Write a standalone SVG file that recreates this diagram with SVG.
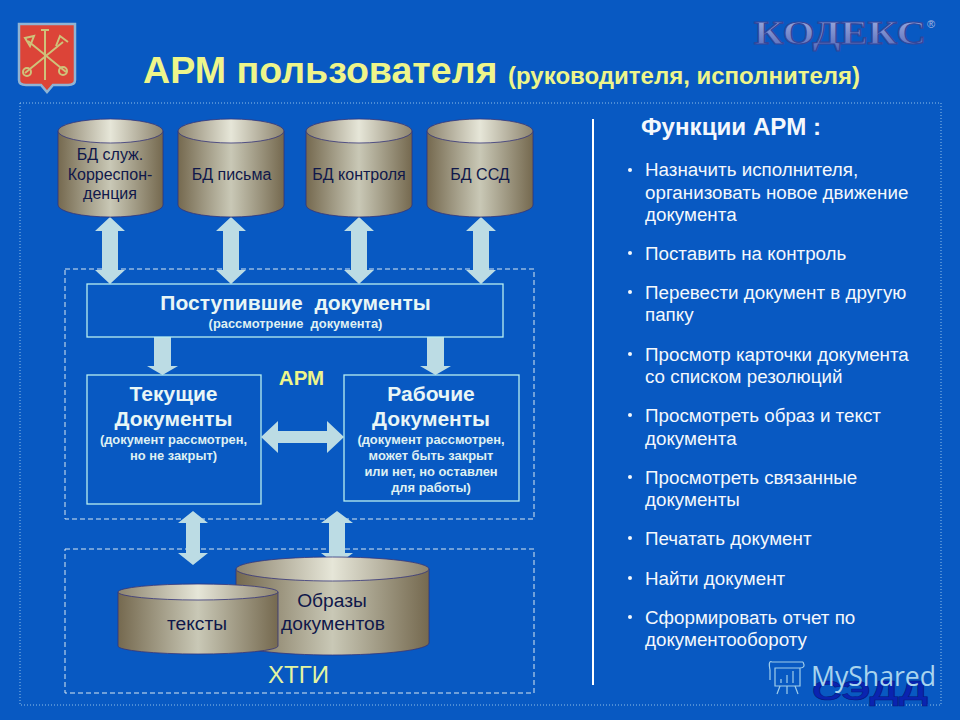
<svg xmlns="http://www.w3.org/2000/svg" width="960" height="720" viewBox="0 0 960 720">
<style>
text{font-family:"Liberation Sans",Arial,sans-serif}
.d{fill:none;stroke:#d8e8f0;stroke-width:1;stroke-dasharray:5 3}
.o{fill:none;stroke:#8fc0e8;stroke-width:1;stroke-dasharray:1 2}
.b{fill:#0859c2;stroke:#b8eef0;stroke-width:1.3}
.a{fill:#bcdce4}
.c{fill:url(#body);stroke:#33337a;stroke-width:.8}
.t{fill:url(#top);stroke:#33337a;stroke-width:.8}
.l{font-size:16px;fill:#10184a;text-anchor:middle}
.l2{font-size:19.200px;fill:#10184a;text-anchor:middle}
.h{font-size:21px;font-weight:bold;fill:#e8f6f6;text-anchor:middle}
.s{font-size:12.900px;font-weight:bold;fill:#dff0f2;text-anchor:middle}
.f{font-size:18.800px;fill:#f4f8fc}
.y{fill:#eef58a;font-weight:bold}
</style>
<defs>
<linearGradient id="body"><stop offset="0" stop-color="#75694f"/><stop offset=".5" stop-color="#c9c8b6"/><stop offset="1" stop-color="#75694f"/></linearGradient>
<linearGradient id="top"><stop offset="0" stop-color="#8d846e"/><stop offset=".5" stop-color="#e6e6d8"/><stop offset="1" stop-color="#8d846e"/></linearGradient>
<linearGradient id="logo" x1="0" y1="0" x2="0" y2="1"><stop offset="0" stop-color="#a4b4e4"/><stop offset="1" stop-color="#5468b8"/></linearGradient>
</defs>
<rect width="960" height="720" fill="#0859c2"/>
<rect class="o" x="20" y="103" width="921" height="602"/>

<g id="emblem">
<path d="M19 24H75V80Q75 85 68 85H53L47 92 41 85H26Q19 85 19 80Z" fill="#dc4438" stroke="#8fb4d4" stroke-width="2.500"/>
<g fill="none" stroke="#cfc27a" stroke-width="2">
<path d="M45 29V80M41 30H49"/>
<path d="M25 73L63 42M28 41L66 72"/>
<circle cx="27" cy="72" r="4"/><circle cx="63" cy="71" r="4"/>
<path d="M25 38L34 36 30 46ZM56 46L60 36 68 42"/>
</g>
</g>
<text id="logo-kodeks" x="754" y="44" font-size="34" font-weight="bold" style="font-family:'Liberation Serif',serif" fill="url(#logo)" stroke="#33469a" stroke-width="1.200" textLength="172" lengthAdjust="spacingAndGlyphs">КОДЕКС</text>
<text x="927" y="28" font-size="11" fill="#a8b8e0">®</text>

<text id="title" x="143" y="83" class="y" font-size="37.600">АРМ пользователя</text>
<text x="508" y="84" class="y" font-size="24">(руководителя, исполнителя)</text>

<g id="zones">
<rect class="d" x="65" y="269" width="469" height="250"/>
<rect class="d" x="65" y="549" width="469" height="144"/>
</g>

<g id="connectors">
<path class="a" d="M110 217L125 231H118V270H125L110 284 95 270H102V231H95Z"/>
<path class="a" d="M231 217L246 231H239V270H246L231 284 216 270H223V231H216Z"/>
<path class="a" d="M359 217L374 231H367V270H374L359 284 344 270H351V231H344Z"/>
<path class="a" d="M481 217L496 231H489V270H496L481 284 466 270H473V231H466Z"/>
<path class="a" d="M154 337H171V366H178L162.500 375 147 366H154Z"/>
<path class="a" d="M427 337H444V366H451L435.500 375 420 366H427Z"/>
<path class="a" d="M261 437L278 421V431H327V421L344 437 327 453V443H278V453Z"/>
<path class="a" d="M193 511L208 523H200V553H208L193 565 178 553H186V523H178Z"/>
<path class="a" d="M337 511L353 523H345V553H353L337 565 321 553H329V523H321Z"/>
</g>

<g id="db-sluzh">
<path class="c" d="M58 131V205A52.500 12 0 0 0 163 205V131Z"/>
<ellipse class="t" cx="110.500" cy="131" rx="52.500" ry="12"/>
<text class="l" x="110" y="160">БД служ.</text>
<text class="l" x="110" y="180">Корреспон-</text>
<text class="l" x="110" y="199">денция</text>
</g>
<g id="db-pisma">
<path class="c" d="M178 131V205A53 12 0 0 0 284 205V131Z"/>
<ellipse class="t" cx="231" cy="131" rx="53" ry="12"/>
<text class="l" x="231.500" y="180">БД письма</text>
</g>
<g id="db-kontrol">
<path class="c" d="M306 131V205A53 12 0 0 0 412 205V131Z"/>
<ellipse class="t" cx="359" cy="131" rx="53" ry="12"/>
<text class="l" x="359" y="180">БД контроля</text>
</g>
<g id="db-ssd">
<path class="c" d="M427 131V205A53 12 0 0 0 533 205V131Z"/>
<ellipse class="t" cx="480" cy="131" rx="53" ry="12"/>
<text class="l" x="480" y="180">БД ССД</text>
</g>

<g id="box-incoming">
<rect class="b" x="87" y="284" width="416" height="53"/>
<text class="h" x="295.500" y="310" xml:space="preserve">Поступившие  документы</text>
<text class="s" x="295.500" y="328" xml:space="preserve">(рассмотрение  документа)</text>
</g>
<text id="arm" x="301.500" y="385" class="y" font-size="20.500" text-anchor="middle">АРМ</text>
<g id="box-current">
<rect class="b" x="87" y="375" width="174" height="129"/>
<text class="h" x="173.500" y="401">Текущие</text>
<text class="h" x="173.500" y="426">Документы</text>
<text class="s" x="173.500" y="444">(документ рассмотрен,</text>
<text class="s" x="173.500" y="460">но не закрыт)</text>
</g>
<g id="box-working">
<rect class="b" x="344" y="375" width="175" height="126"/>
<text class="h" x="431" y="401">Рабочие</text>
<text class="h" x="431" y="426">Документы</text>
<text class="s" x="431" y="444">(документ рассмотрен,</text>
<text class="s" x="431" y="460">может быть закрыт</text>
<text class="s" x="431" y="476">или нет, но оставлен</text>
<text class="s" x="431" y="492">для работы)</text>
</g>

<g id="db-images">
<path class="c" d="M236 569V643A96.500 12 0 0 0 429 643V569Z"/>
<ellipse class="t" cx="332.500" cy="569" rx="96.500" ry="12"/>
<text class="l2" x="332" y="607">Образы</text>
<text class="l2" x="333" y="630">документов</text>
</g>
<g id="db-texts">
<path class="c" d="M118 592V646A80 8 0 0 0 278 646V592Z"/>
<ellipse class="t" cx="198" cy="592" rx="80" ry="8"/>
<text class="l2" x="197" y="630">тексты</text>
</g>
<text id="xtgi" x="298.500" y="683" font-size="24" fill="#e4f5a0" text-anchor="middle">ХТГИ</text>

<rect id="divider" x="592" y="119" width="2" height="566" fill="#fff"/>

<g id="functions">
<text x="641" y="135" font-size="24" font-weight="bold" fill="#f4f8fc" textLength="180" lengthAdjust="spacingAndGlyphs">Функции АРМ :</text>
<g fill="#f4f8fc">
<circle cx="630" cy="170" r="2"/><circle cx="630" cy="253" r="2"/><circle cx="630" cy="292" r="2"/><circle cx="630" cy="354" r="2"/><circle cx="630" cy="415" r="2"/><circle cx="630" cy="477" r="2"/><circle cx="630" cy="538" r="2"/><circle cx="630" cy="578" r="2"/><circle cx="630" cy="617" r="2"/>
</g>
<text class="f" x="645" y="176">Назначить исполнителя,</text>
<text class="f" x="645" y="199">организовать новое движение</text>
<text class="f" x="645" y="221">документа</text>
<text class="f" x="645" y="260">Поставить на контроль</text>
<text class="f" x="645" y="299">Перевести документ в другую</text>
<text class="f" x="645" y="321">папку</text>
<text class="f" x="645" y="361">Просмотр карточки документа</text>
<text class="f" x="645" y="383">со списком резолюций</text>
<text class="f" x="645" y="422">Просмотреть образ и текст</text>
<text class="f" x="645" y="445">документа</text>
<text class="f" x="645" y="484">Просмотреть связанные</text>
<text class="f" x="645" y="506">документы</text>
<text class="f" x="645" y="545">Печатать документ</text>
<text class="f" x="645" y="585">Найти документ</text>
<text class="f" x="645" y="624">Сформировать отчет по</text>
<text class="f" x="645" y="646">документообороту</text>
</g>

<text id="logo-sedd" x="812" y="700" font-size="27" font-weight="bold" fill="#0a24b0" stroke="#061a80" stroke-width=".5" textLength="116" lengthAdjust="spacingAndGlyphs">СЭДД</text>
<g id="watermark" fill="none" stroke="#9fcdea" stroke-width="1.200">
<path d="M772 662H803M772 662Q768 660 770 670V680M803 662Q806 668 800 668H775V686H800V668"/>
<path d="M780 686L777 694M795 686L798 694M787 686V694"/>
<path d="M781 683V679M787 683V675M793 683V671"/>
</g>
<text x="811" y="686" font-size="27" fill="#a8d4ee" textLength="125" lengthAdjust="spacingAndGlyphs" style="font-family:'Open Sans',sans-serif">MyShared</text>
</svg>
